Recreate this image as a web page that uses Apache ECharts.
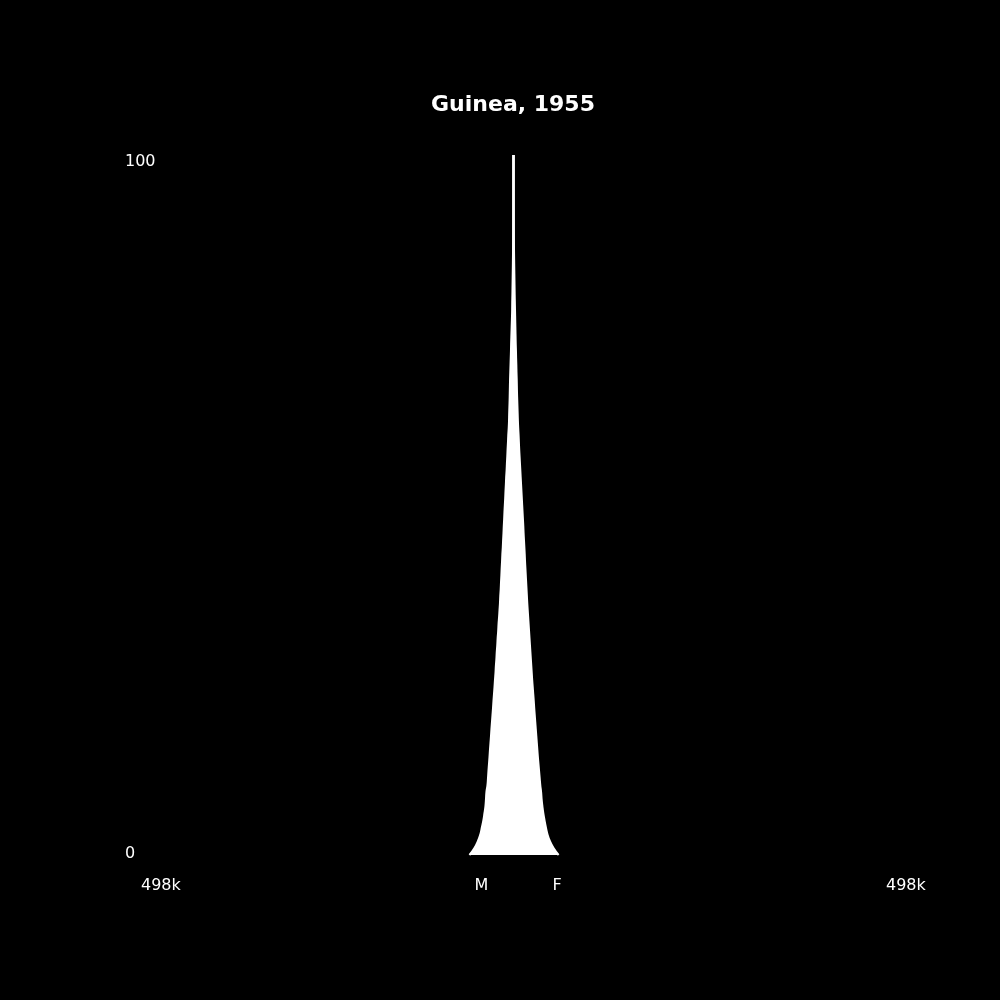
<!DOCTYPE html>
<html>
<head>
<meta charset="UTF-8" />
<title>Guinea, 1955</title>
<script src="https://cdn.jsdelivr.net/npm/echarts@6/dist/echarts.min.js"></script>
<style>
  html, body { margin: 0; padding: 0; background: #000; }
</style>
</head>
<body>
<div id="main" style="width: 1000px;height:1000px;"></div>
<script type="text/javascript">

    // 年龄 0..100
    var ages = [];
    for (var a = 0; a <= 100; a++) { ages.push(String(a)); }

    // 男性人数（千人），按年龄 0..100
    var male = [
        58.9, 52.2, 47.5, 44.2, 42.2, 40.2, 38.8, 37.5, 36.8, 36.2,
        34.8, 34.1, 33.5, 32.8, 32.1, 31.5, 30.8, 30.1, 29.5, 28.8,
        28.1, 27.4, 26.8, 26.1, 25.4, 24.8, 24.1, 23.6, 22.9, 22.4,
        21.7, 21.2, 20.5, 20.0, 19.3, 18.7, 18.1, 17.7, 17.1, 16.7,
        16.2, 15.8, 15.3, 14.9, 14.3, 13.9, 13.4, 13.0, 12.5, 12.1,
        11.6, 11.1, 10.7, 10.2, 9.8, 9.2, 8.8, 8.3, 7.9, 7.4,
        7.0, 6.4, 6.0, 5.8, 5.5, 5.2, 5.0, 4.8, 4.6, 4.3,
        4.0, 3.7, 3.4, 3.2, 2.9, 2.6, 2.3, 2.0, 1.8, 1.7,
        1.5, 1.35, 1.2, 1.05, 0.9, 0.78, 0.65, 0.55, 0.46, 0.38,
        0.31, 0.25, 0.2, 0.16, 0.12, 0.09, 0.07, 0.05, 0.03, 0.02,
        0.01
    ];

    // 女性人数（千人）
    var female = [
        60.3, 53.5, 48.6, 45.3, 43.2, 41.4, 39.8, 38.6, 37.6, 36.9,
        35.8, 35.0, 34.2, 33.4, 32.6, 31.9, 31.2, 30.5, 29.8, 29.1,
        28.4, 27.7, 27.1, 26.4, 25.7, 25.0, 24.4, 23.8, 23.2, 22.6,
        22.0, 21.4, 20.8, 20.2, 19.6, 19.0, 18.4, 17.9, 17.4, 16.9,
        16.4, 15.9, 15.4, 15.0, 14.5, 14.0, 13.5, 13.1, 12.6, 12.1,
        11.6, 11.1, 10.6, 10.1, 9.6, 9.1, 8.6, 8.1, 7.6, 7.2,
        6.8, 6.3, 5.9, 5.6, 5.3, 5.0, 4.7, 4.5, 4.3, 4.0,
        3.8, 3.5, 3.3, 3.0, 2.8, 2.6, 2.4, 2.2, 2.0, 1.8,
        1.6, 1.45, 1.3, 1.15, 1.0, 0.86, 0.73, 0.61, 0.5, 0.41,
        0.33, 0.27, 0.21, 0.17, 0.13, 0.1, 0.07, 0.05, 0.04, 0.02,
        0.01
    ];

    // 横轴范围与标签
    var xMax = 498;
    var xTicks = [-498, -52, 52, 498];
    var xTickText = ['498k', 'M', 'F', '498k'];

    var maleNeg = male.map(function (v) { return -v; });

    var option = {
        backgroundColor: '#000',
        animation: false,
        title: {
            text: 'Guinea, 1955',
            left: 508,
            top: 89,
            textAlign: 'center',
            textStyle: {
                color: '#fff',
                fontFamily: 'DejaVu Sans',
                fontWeight: 'bold',
                fontSize: 22
            }
        },
        grid: {
            left: 141,
            right: 114,
            top: 155,
            bottom: 145
        },
        xAxis: {
            type: 'value',
            min: -xMax,
            max: xMax,
            axisLine: { show: false },
            axisTick: { show: false },
            splitLine: { show: false },
            axisLabel: {
                customValues: xTicks,
                align: 'left',
                margin: 23,
                color: '#fff',
                fontFamily: 'DejaVu Sans',
                fontSize: 16,
                formatter: function (v) {
                    var i = xTicks.indexOf(v);
                    return i >= 0 ? xTickText[i] : '';
                }
            }
        },
        yAxis: {
            type: 'category',
            data: ages,
            boundaryGap: false,
            axisLine: { show: false },
            axisTick: { show: false },
            splitLine: { show: false },
            axisLabel: {
                align: 'left',
                margin: 16,
                interval: function (i) { return i === 0 || i === 100; },
                formatter: function (v) {
                    if (v === '100') return '{t|100}';
                    if (v === '0') return '{b|0}';
                    return '';
                },
                rich: {
                    t: { color: '#fff', fontFamily: 'DejaVu Sans', fontSize: 16, padding: [14, 0, 0, 0] },
                    b: { color: '#fff', fontFamily: 'DejaVu Sans', fontSize: 16, padding: [0, 0, 2, 0] }
                }
            }
        },
        series: [{
            name: 'M',
            type: 'line',
            data: maleNeg,
            smooth: true,
            showSymbol: false,
            lineStyle: { color: '#fff', width: 2 },
            areaStyle: { color: '#fff', opacity: 1 }
        }, {
            name: 'F',
            type: 'line',
            data: female,
            smooth: true,
            showSymbol: false,
            lineStyle: { color: '#fff', width: 2 },
            areaStyle: { color: '#fff', opacity: 1 },
            markLine: {
                silent: true,
                symbol: 'none',
                label: { show: false },
                lineStyle: { color: '#fff', width: 2.5, type: 'solid' },
                data: [{ xAxis: 0 }]
            }
        }]
    };

    var myChart = echarts.init(document.getElementById('main'));
    myChart.setOption(option);
</script>
</body>
</html>
